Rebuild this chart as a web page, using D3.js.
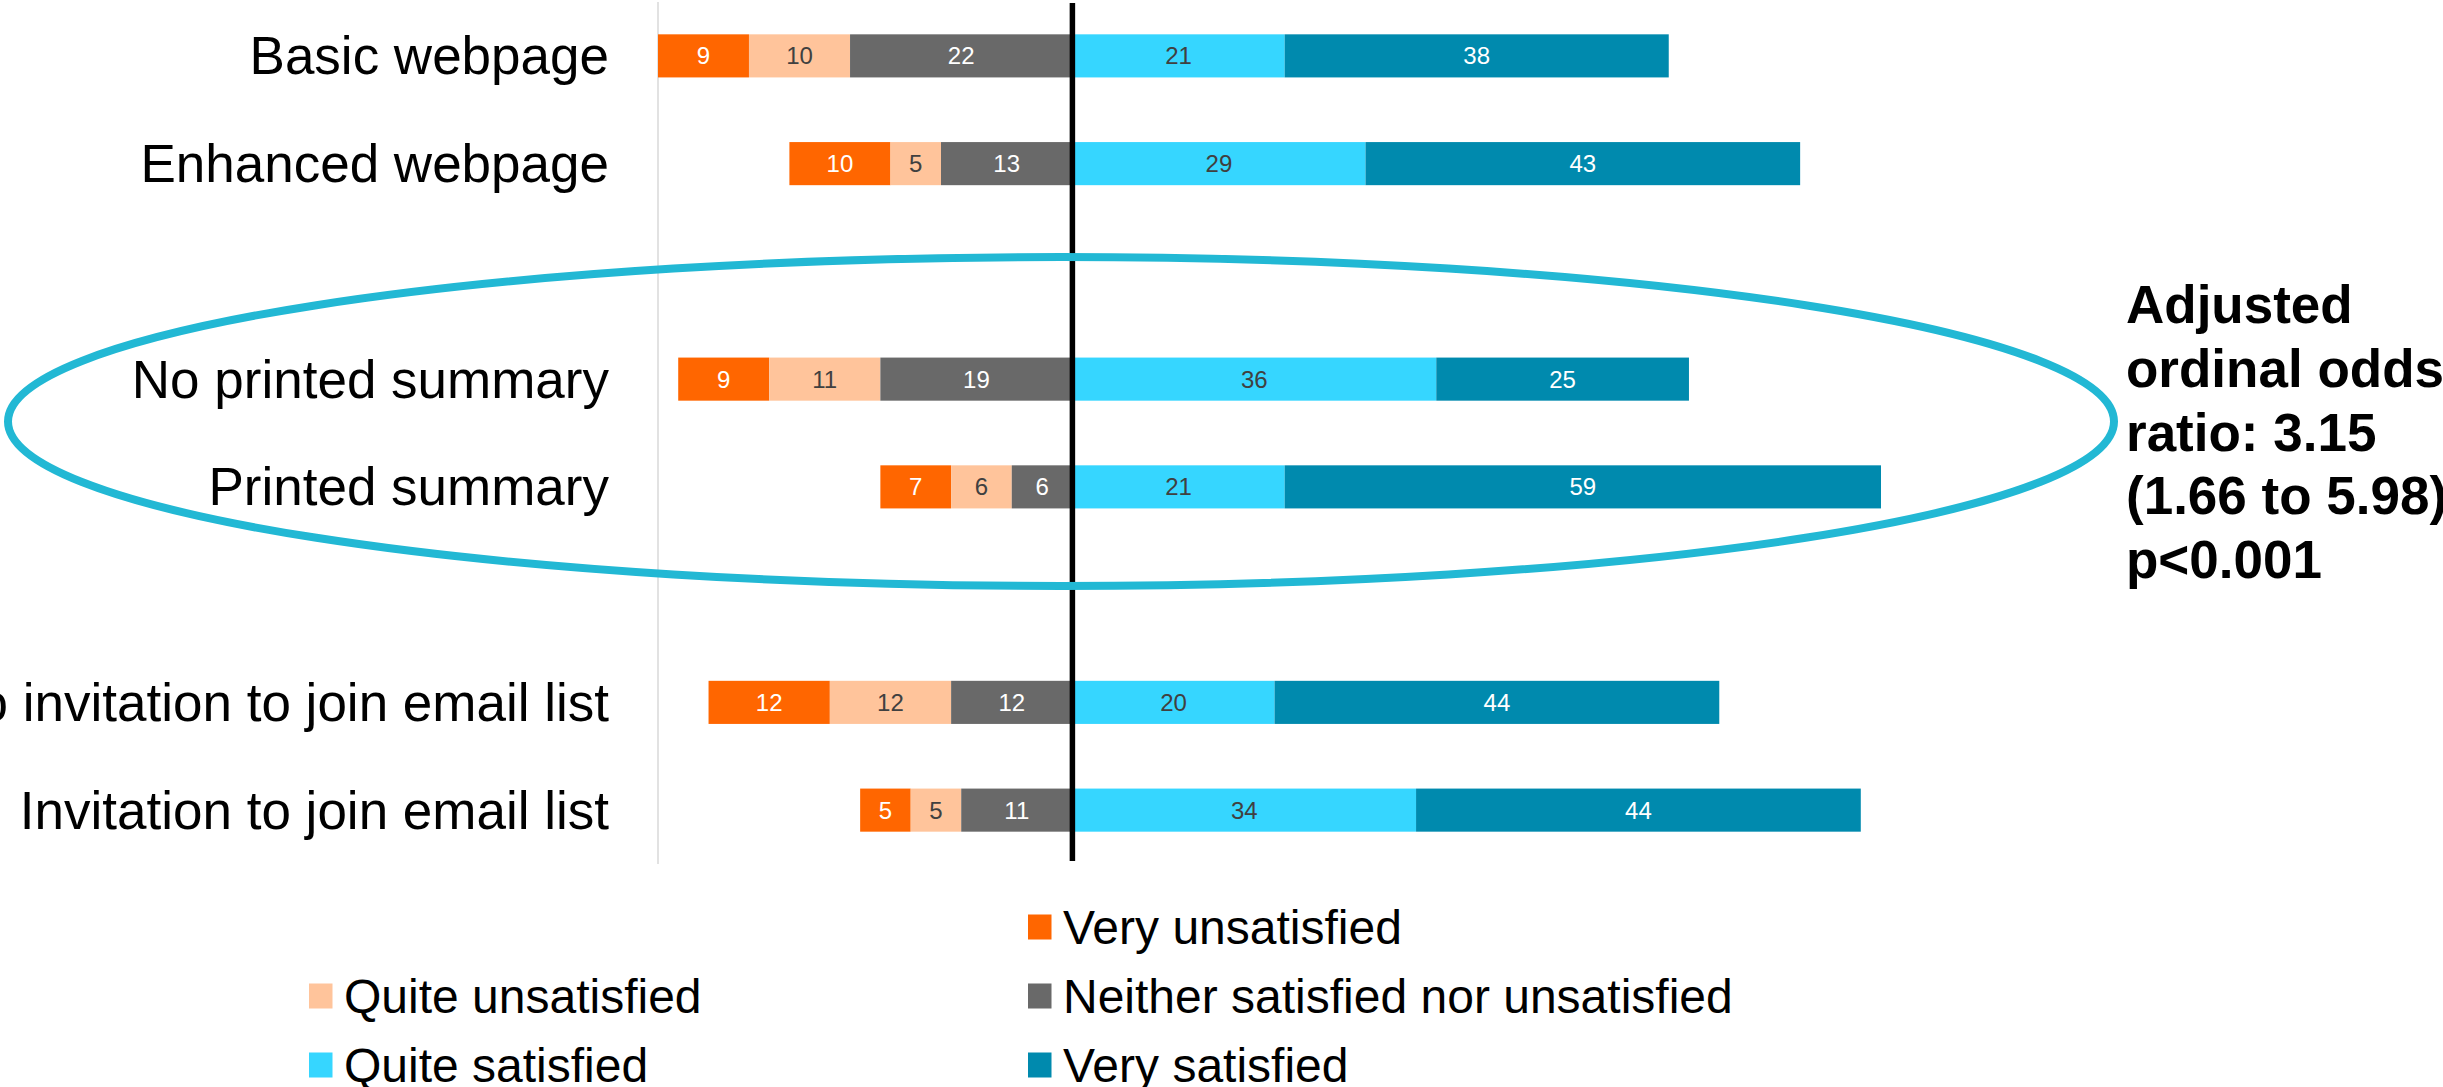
<!DOCTYPE html>
<html>
<head>
<meta charset="utf-8">
<script src="https://cdn.jsdelivr.net/npm/d3@7"></script>
<style>
  html, body { margin: 0; padding: 0; background: #ffffff; }
  svg { display: block; font-family: "Liberation Sans", Arial, sans-serif; }
</style>
</head>
<body>
<svg id="chart" width="2443" height="1087"></svg>
<script>
// Satisfaction with the information pack, percentage of respondents per arm
const categories = [
  "Basic webpage", "Enhanced webpage",
  "No printed summary", "Printed summary",
  "No invitation to join email list", "Invitation to join email list"
];
// categories come in pairs (one comparison per pair)
const groupSize = 2;

const veryUnsatisfied  = [9, 10, 9, 7, 12, 5];
const quiteUnsatisfied = [10, 5, 11, 6, 12, 5];
const neither          = [22, 13, 19, 6, 12, 11];
const quiteSatisfied   = [21, 29, 36, 21, 20, 34];
const verySatisfied    = [38, 43, 25, 59, 44, 44];

const seriesNames = [
  "Very unsatisfied", "Quite unsatisfied", "Neither satisfied nor unsatisfied",
  "Quite satisfied", "Very satisfied"
];
const seriesColors = ["#ff6600", "#ffc49b", "#696969", "#36d6ff", "#008aae"];
const labelColors  = ["#ffffff", "#404040", "#ffffff", "#404040", "#ffffff"];

const xDomain = [-41, 80];

const annotationLines = [
  "Adjusted", "ordinal odds", "ratio: 3.15", "(1.66 to 5.98)", "p<0.001"
];

const svg = d3.select("#chart");

// Row slots: each pair of categories followed by an empty spacer row
const slots = [];
categories.forEach((c, i) => {
  slots.push(c);
  if ((i + 1) % groupSize === 0 && i < categories.length - 1) slots.push("__gap" + i);
});

const y = d3.scaleBand().domain(slots).range([2, 864]).paddingInner(0.6).paddingOuter(0.3);
const x = d3.scaleLinear().domain(xDomain).range([658, 1881]);

// Rows of stacked segments: negatives stack leftwards from 0, positives rightwards
const rows = categories.map((c, i) => {
  const neg = [veryUnsatisfied[i], quiteUnsatisfied[i], neither[i]];
  const pos = [quiteSatisfied[i], verySatisfied[i]];
  const segs = [];
  let start = -d3.sum(neg);
  neg.forEach((v, k) => { segs.push({ k, v, x0: start, x1: start + v }); start += v; });
  start = 0;
  pos.forEach((v, k) => { segs.push({ k: k + 3, v, x0: start, x1: start + v }); start += v; });
  return { cat: c, segs };
});

// Light axis line at the left edge of the value range
svg.append("line")
  .attr("x1", x(xDomain[0])).attr("x2", x(xDomain[0]))
  .attr("y1", y.range()[0]).attr("y2", y.range()[1])
  .attr("stroke", "#d9d9d9").attr("stroke-width", 1.5);

const rowG = svg.append("g").selectAll("g").data(rows).join("g")
  .attr("transform", d => `translate(0,${y(d.cat)})`);

rowG.selectAll("rect").data(d => d.segs).join("rect")
  .attr("x", d => x(d.x0))
  .attr("width", d => x(d.x1) - x(d.x0))
  .attr("y", 0)
  .attr("height", y.bandwidth())
  .attr("fill", d => seriesColors[d.k]);

rowG.selectAll("text.val").data(d => d.segs).join("text")
  .attr("class", "val")
  .attr("x", d => (x(d.x0) + x(d.x1)) / 2)
  .attr("y", y.bandwidth() / 2)
  .attr("dy", "0.35em")
  .attr("text-anchor", "middle")
  .attr("font-size", 24)
  .attr("fill", d => labelColors[d.k])
  .text(d => d.v);

// Category labels
svg.append("g").selectAll("text").data(categories).join("text")
  .attr("x", 609)
  .attr("y", d => y(d) + y.bandwidth() / 2)
  .attr("dy", "0.35em")
  .attr("text-anchor", "end")
  .attr("font-size", 53)
  .attr("fill", "#000000")
  .text(d => d);

// Zero line
svg.append("line")
  .attr("x1", x(0)).attr("x2", x(0))
  .attr("y1", 3).attr("y2", 861)
  .attr("stroke", "#000000").attr("stroke-width", 5.5);

// Highlight around the printed summary comparison
svg.append("ellipse")
  .attr("cx", 1061).attr("cy", 421.5)
  .attr("rx", 1053).attr("ry", 164.5)
  .attr("fill", "none")
  .attr("stroke", "#22b8d4")
  .attr("stroke-width", 8);

// Odds ratio note
svg.append("text")
  .attr("font-size", 53)
  .attr("font-weight", "bold")
  .attr("fill", "#000000")
  .selectAll("tspan").data(annotationLines).join("tspan")
  .attr("x", 2126)
  .attr("y", (d, i) => 323 + i * 63.8)
  .text(d => d);

// Legend: two columns, first slot left empty
const legend = svg.append("g").selectAll("g").data(seriesNames).join("g")
  .attr("transform", (d, i) => {
    const slot = i + 1;
    const col = slot % 2, row = Math.floor(slot / 2);
    return `translate(${col ? 1028 : 309},${927 + row * 69})`;
  });
legend.append("rect")
  .attr("x", 0).attr("y", -12.5).attr("width", 23.5).attr("height", 25)
  .attr("fill", (d, i) => seriesColors[i]);
legend.append("text")
  .attr("x", 35).attr("y", 17)
  .attr("font-size", 48)
  .attr("fill", "#000000")
  .text(d => d);
</script>
</body>
</html>
